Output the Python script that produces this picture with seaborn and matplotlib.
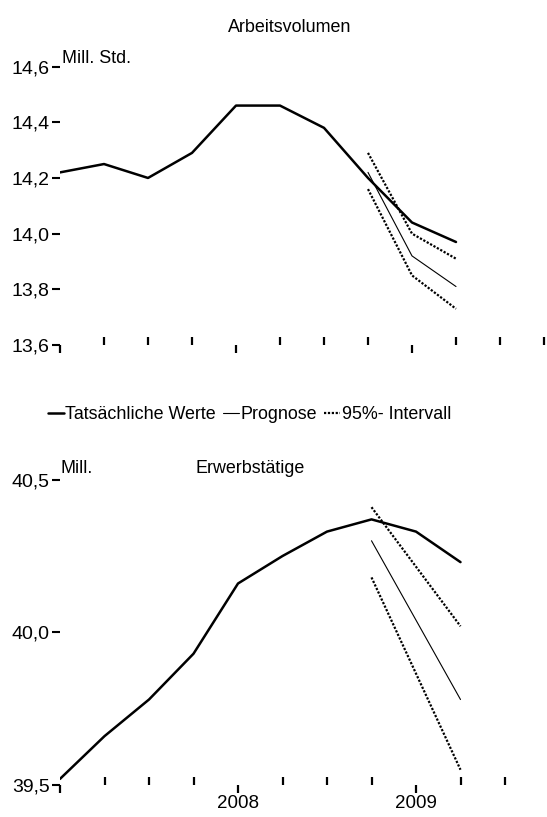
import matplotlib
matplotlib.use("Agg")
import matplotlib.pyplot as plt
import seaborn as sns
from matplotlib.lines import Line2D

# Quartale als Index: 0 = 2007 Q1, 4 = 2008 Q1, 8 = 2009 Q1
quartale = [0, 1, 2, 3, 4, 5, 6, 7, 8, 9]

# Arbeitsvolumen (Mill. Std.)
av_ist = [14.22, 14.25, 14.20, 14.29, 14.46, 14.46, 14.38, 14.20, 14.04, 13.97]
av_prog_q = [7, 8, 9]
av_prognose = [14.22, 13.92, 13.81]
av_oben = [14.29, 14.00, 13.91]
av_unten = [14.16, 13.85, 13.73]
av_yticks = [13.6, 13.8, 14.0, 14.2, 14.4, 14.6]

# Erwerbstätige (Mill.)
et_ist = [39.52, 39.66, 39.78, 39.93, 40.16, 40.25, 40.33, 40.37, 40.33, 40.23]
et_prog_q = [7, 9]
et_prognose = [40.30, 39.78]
et_oben = [40.41, 40.02]
et_unten = [40.18, 39.55]
et_yticks = [39.5, 40.0, 40.5]

jahr_ticks = [0, 4, 8]
jahr_labels = ["", "2008", "2009"]
legende = ["Tatsächliche Werte", "Prognose", "95%- Intervall"]

sns.set_style("white")
plt.rcParams["font.family"] = ["Liberation Sans", "DejaVu Sans"]
plt.rcParams["text.color"] = "black"
plt.rcParams["xtick.color"] = "black"
plt.rcParams["ytick.color"] = "black"
TXT = 12.9
TICK = 14
XTICK = 13.5

W, H = 547, 817
fig = plt.figure(figsize=(W / 100, H / 100), dpi=100)


def px_axes(left, top, width, height):
    return fig.add_axes([left / W, 1 - (top + height) / H, width / W, height / H])


ist_kw = dict(color="black", linewidth=1.8)
prog_kw = dict(color="black", linewidth=0.8)
int_kw = dict(color="black", linewidth=1.6, linestyle=(0, (1, 0.75)))


def zeichne(ax, ist, pq, prog, oben, unten):
    sns.lineplot(x=quartale, y=ist, ax=ax, errorbar=None, **ist_kw)
    sns.lineplot(x=pq, y=prog, ax=ax, errorbar=None, **prog_kw)
    sns.lineplot(x=pq, y=oben, ax=ax, errorbar=None, **int_kw)
    sns.lineplot(x=pq, y=unten, ax=ax, errorbar=None, **int_kw)


def achsen(ax, n_quartale, yticks):
    sns.despine(ax=ax, left=True, bottom=True, top=True, right=True)
    ax.set_xticks(jahr_ticks)
    ax.set_xticks([q for q in range(n_quartale) if q not in jahr_ticks], minor=True)
    ax.set_yticks(yticks)
    ax.set_yticklabels([f"{v:.1f}".replace(".", ",") for v in yticks])
    ax.tick_params(axis="both", which="both", bottom=True, left=True)
    ax.tick_params(axis="y", direction="out", length=5.8, width=1.5,
                   pad=1.5, labelsize=TICK)
    ax.tick_params(axis="x", which="major", direction="out", length=5.5,
                   width=1.6, pad=2, labelsize=XTICK)
    ax.tick_params(axis="x", which="minor", direction="in", length=5.5, width=1.6)
    ax.set_xlabel("")
    ax.set_ylabel("")
    ax.grid(False)


# oben: Arbeitsvolumen
ax1 = px_axes(60, 66.6, 487, 278.4)
zeichne(ax1, av_ist, av_prog_q, av_prognose, av_oben, av_unten)
ax1.set_xlim(0, 487 / 44)
ax1.set_ylim(13.6, 14.6)
achsen(ax1, 12, av_yticks)
ax1.set_xticklabels([])

# unten: Erwerbstätige
ax2 = px_axes(60, 479.7, 480, 305.3)
zeichne(ax2, et_ist, et_prog_q, et_prognose, et_oben, et_unten)
ax2.set_xlim(0, 480 / 44.5)
ax2.set_ylim(39.5, 40.5)
achsen(ax2, 11, et_yticks)
ax2.set_xticklabels(jahr_labels)

# Titel und Einheiten
fig.text(290 / W, 1 - 32 / H, "Arbeitsvolumen", ha="center", va="baseline", fontsize=TXT)
fig.text(62 / W, 1 - 63 / H, "Mill. Std.", ha="left", va="baseline", fontsize=TXT)
fig.text(250 / W, 1 - 473 / H, "Erwerbstätige", ha="center", va="baseline", fontsize=TXT)
fig.text(61 / W, 1 - 473 / H, "Mill.", ha="left", va="baseline", fontsize=TXT)

# Legende
handles = [Line2D([], [], **ist_kw), Line2D([], [], **prog_kw), Line2D([], [], **int_kw)]
fig.legend(handles, legende, loc="center", bbox_to_anchor=(249.5 / W, 1 - 415 / H),
           ncol=3, frameon=False, fontsize=TXT,
           handlelength=0.9, handletextpad=0.08, columnspacing=0.4,
           borderaxespad=0)

fig.savefig("out.png", dpi=100)
